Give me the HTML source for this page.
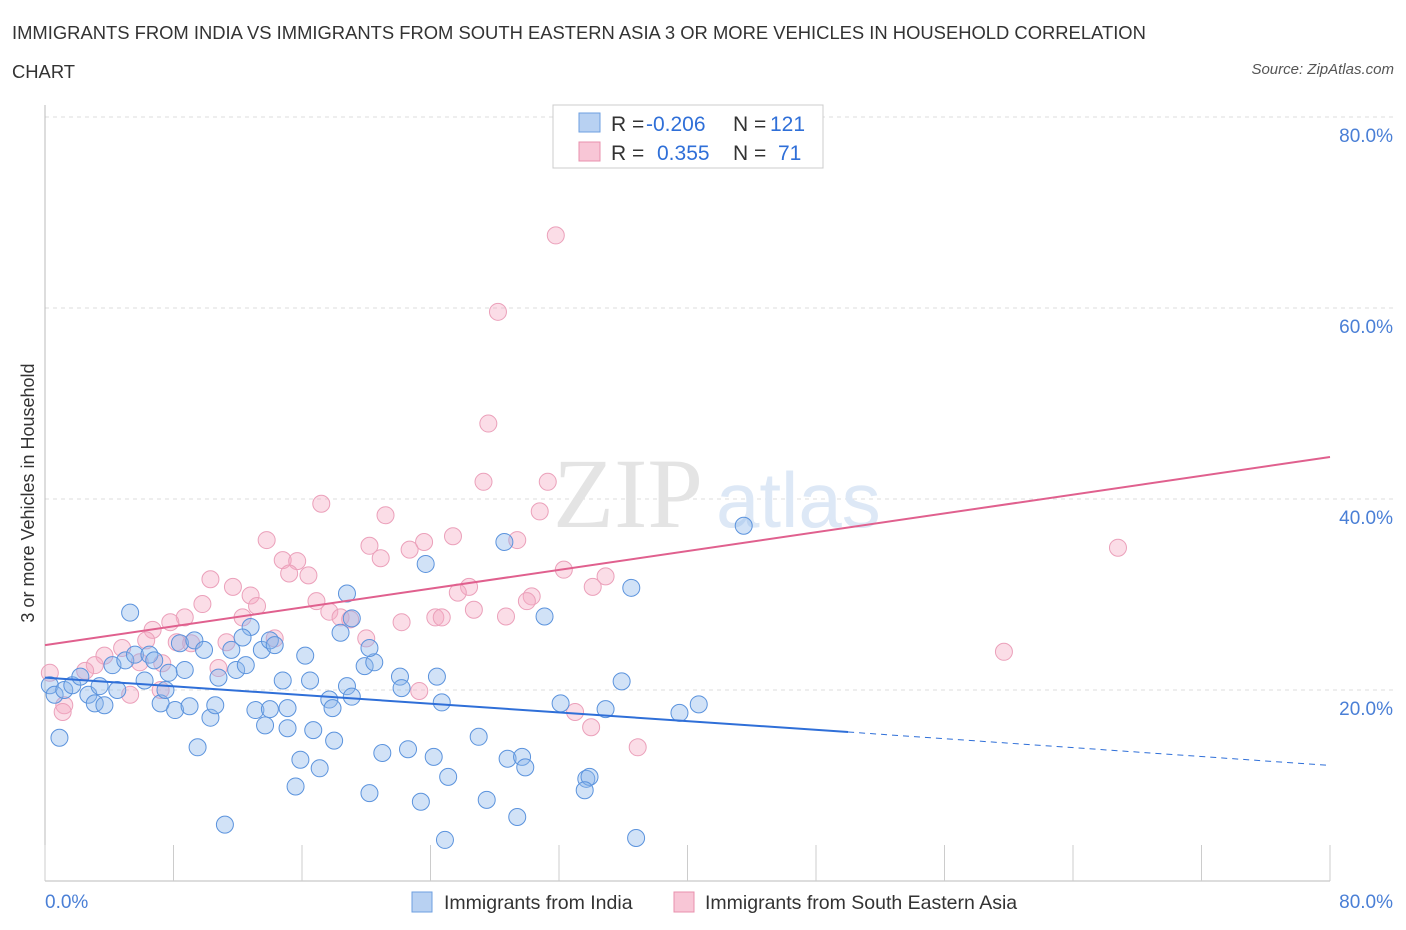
<!DOCTYPE html>
<html><head><meta charset="utf-8">
<style>
body{margin:0;background:#fff;font-family:"Liberation Sans",sans-serif;}
#wrap{position:relative;width:1406px;height:930px;overflow:hidden;}
.t{position:absolute;color:#333;font-size:18px;}
</style></head>
<body>
<div id="wrap">
<div class="t" style="left:12px;top:22px;font-size:18.4px">IMMIGRANTS FROM INDIA VS IMMIGRANTS FROM SOUTH EASTERN ASIA 3 OR MORE VEHICLES IN HOUSEHOLD CORRELATION</div>
<div class="t" style="left:12px;top:61px;font-size:18.4px">CHART</div>
<div class="t" style="right:12px;top:61px;font-size:15px;font-style:italic;color:#555">Source: ZipAtlas.com</div>
<svg id="chart" width="1406" height="930" style="position:absolute;left:0;top:0"></svg>
</div>
<script>
const indiaX=[0.9,5.3,12.8,10.3,9.5,11.2,15.6,15.9,17.1,18.0,18.8,18.4,19.1,16.2,17.7,18.8,19.1,19.9,20.5,20.2,20.2,21.0,22.1,22.2,22.6,23.4,23.7,24.4,24.7,24.2,25.1,24.9,27.0,27.5,28.6,28.8,29.7,29.9,29.4,31.1,32.1,33.7,33.9,33.6,34.9,35.9,36.5,36.8,39.5,40.7,43.5,0.3,0.6,1.2,1.7,2.2,2.7,3.1,3.4,3.7,4.2,4.5,5.0,5.6,6.2,6.5,6.8,7.2,7.5,7.7,8.1,8.4,8.7,9.0,9.3,9.9,10.8,10.6,11.6,11.9,12.5,12.3,13.1,13.5,13.7,14.0,14.3,14.0,14.8,15.1,15.1,16.5,16.7,17.9];
const indiaY=[15.0,28.1,26.6,17.1,14.0,5.9,9.9,12.7,11.8,14.7,30.1,26.0,27.5,23.6,19.0,20.4,19.3,22.5,22.9,24.4,9.2,13.4,21.4,20.2,13.8,8.3,33.2,21.4,18.7,13.0,10.9,4.3,15.1,8.5,35.5,12.8,13.0,11.9,6.7,27.7,18.6,10.7,10.9,9.5,18.0,20.9,30.7,4.5,17.6,18.5,37.2,20.5,19.5,20.0,20.5,21.4,19.5,18.6,20.4,18.4,22.6,20.0,23.1,23.7,21.0,23.7,23.1,18.6,20.0,21.8,17.9,24.9,22.1,18.3,25.2,24.2,21.3,18.4,24.2,22.1,22.6,25.5,17.9,24.2,16.3,25.2,24.7,18.0,21.0,18.1,16.0,21.0,15.8,18.1];
const seaX=[31.8,28.2,27.6,27.3,31.3,17.2,21.2,30.8,25.4,29.4,13.8,20.2,22.7,23.6,20.9,14.8,15.7,15.2,16.4,32.3,34.9,34.1,10.3,11.7,26.4,25.7,12.8,9.8,13.2,16.9,30.3,30.0,17.7,18.4,19.0,22.2,24.3,24.7,26.7,28.7,8.7,7.8,6.7,12.3,6.3,8.2,11.3,14.3,20.0,4.8,5.9,3.7,3.1,2.5,1.2,1.1,5.3,7.2,7.3,0.3,23.3,33.0,34.0,36.9,59.7,66.8,9.1,10.8];
const seaY=[67.6,59.6,47.9,41.8,41.8,39.5,38.3,38.7,36.1,35.7,35.7,35.1,34.7,35.5,33.8,33.6,33.5,32.2,32.0,32.6,31.9,30.8,31.6,30.8,30.8,30.2,29.9,29.0,28.8,29.3,29.8,29.3,28.2,27.6,27.4,27.1,27.6,27.6,28.4,27.7,27.6,27.1,26.3,27.6,25.2,25.0,25.0,25.4,25.4,24.4,22.9,23.6,22.6,22.0,18.4,17.7,19.5,20.0,22.8,21.8,19.9,17.7,16.1,14.0,24.0,34.9,24.9,22.3];
const yTicks=[20,40,60,80];
const xTickLabels=["0.0%","80.0%"];
const indiaTrend=[21.3,15.6,12.1]; // at x=0,50,80
const seaTrend=[24.7,44.4]; // at x=0,80

const NS="http://www.w3.org/2000/svg";
const svg=document.getElementById('chart');
const X=v=>45+v*(1330-45)/80;
const Y=v=>881-v*(881-117)/80;
function el(tag,attrs,parent){const e=document.createElementNS(NS,tag);for(const k in attrs)e.setAttribute(k,attrs[k]);(parent||svg).appendChild(e);return e;}

yTicks.forEach(t=>{
  const g=el('line',{x1:45,x2:1395,y1:Y(t),y2:Y(t),stroke:'#ddd','stroke-dasharray':'4,4'});
  
  
  const tx=el('text',{x:1393,y:Y(t)+25,'text-anchor':'end',fill:'#4a7fd6','font-size':19,'font-family':'Liberation Sans'});
  tx.textContent=t.toFixed(1)+'%';
  
  
});
const ax=el('line',{x1:45,x2:1330,y1:881,y2:881,stroke:'#bbb'});


const ay=el('line',{x1:45,x2:45,y1:105,y2:881,stroke:'#bbb'});


for(let i=0;i<=10;i++){
  const tk=el('line',{x1:X(i*8),x2:X(i*8),y1:845,y2:881,stroke:'#ccc'});
  
  
}
[[0,45,'start'],[1,1393,'end']].forEach(([i,x,a])=>{
  const t=el('text',{x:x,y:908,'text-anchor':a,fill:'#4a7fd6','font-size':19,'font-family':'Liberation Sans'});
  t.textContent=xTickLabels[i];
  
  
});
const yt=el('text',{x:0,y:0,transform:'translate(34,493) rotate(-90)','text-anchor':'middle',fill:'#333','font-size':18,'font-family':'Liberation Sans'});
yt.textContent='3 or more Vehicles in Household';


const wm=el('text',{x:553,y:527,fill:'#e4e4e4','font-size':100,'font-family':'Liberation Serif'});
wm.textContent='ZIP';


const wm2=el('text',{x:716,y:527,fill:'#dde8f6','font-size':78,'font-family':'Liberation Sans'});
wm2.textContent='atlas';



seaX.forEach((x,i)=>{
  const c=el('circle',{cx:X(x),cy:Y(seaY[i]),r:8.5,fill:'rgba(244,170,196,0.4)',stroke:'#eba0ba','stroke-width':1});
  
  
});
indiaX.forEach((x,i)=>{
  const c=el('circle',{cx:X(x),cy:Y(indiaY[i]),r:8.5,fill:'rgba(140,182,236,0.4)',stroke:'#5b93dd','stroke-width':1});
  
  
});
const l1=el('line',{x1:X(0),y1:Y(indiaTrend[0]),x2:X(50),y2:Y(indiaTrend[1]),stroke:'#2f6fd8','stroke-width':2});


const l2=el('line',{x1:X(50),y1:Y(indiaTrend[1]),x2:X(80),y2:Y(indiaTrend[2]),stroke:'#2f6fd8','stroke-width':1,'stroke-dasharray':'6,5'});


const l3=el('line',{x1:X(0),y1:Y(seaTrend[0]),x2:X(80),y2:Y(seaTrend[1]),stroke:'#e0608e','stroke-width':2});



const lg=el('g',{});


el('rect',{x:553,y:105,width:270,height:63,fill:'#fff',stroke:'#ccc'},lg);
el('rect',{x:579,y:113,width:21,height:19,fill:'#b8d1f2',stroke:'#6e9fe0'},lg);
el('rect',{x:579,y:142,width:21,height:19,fill:'#f8c6d6',stroke:'#e890ad'},lg);
[[131,'R = ','-0.206','N = ','121',646,770],[160,'R = ','0.355','N = ','71',657,778]].forEach(r=>{
  const t=el('text',{x:611,y:r[0],'font-size':21,'font-family':'Liberation Sans',fill:'#333'},lg);
  t.innerHTML=r[1]+'<tspan fill="#2f6fd8" x="'+r[5]+'">'+r[2]+'</tspan><tspan x="733">'+r[3]+'</tspan><tspan fill="#2f6fd8" x="'+r[6]+'">'+r[4]+'</tspan>';
});
const bl=el('g',{});


el('rect',{x:412,y:892,width:20,height:20,fill:'#b8d1f2',stroke:'#6e9fe0'},bl);
el('rect',{x:674,y:892,width:20,height:20,fill:'#f8c6d6',stroke:'#e890ad'},bl);
const b1=el('text',{x:444,y:909,'font-size':19.5,fill:'#333','font-family':'Liberation Sans'},bl);b1.textContent='Immigrants from India';
const b2=el('text',{x:705,y:909,'font-size':19.5,fill:'#333','font-family':'Liberation Sans'},bl);b2.textContent='Immigrants from South Eastern Asia';
</script>
</body></html>
